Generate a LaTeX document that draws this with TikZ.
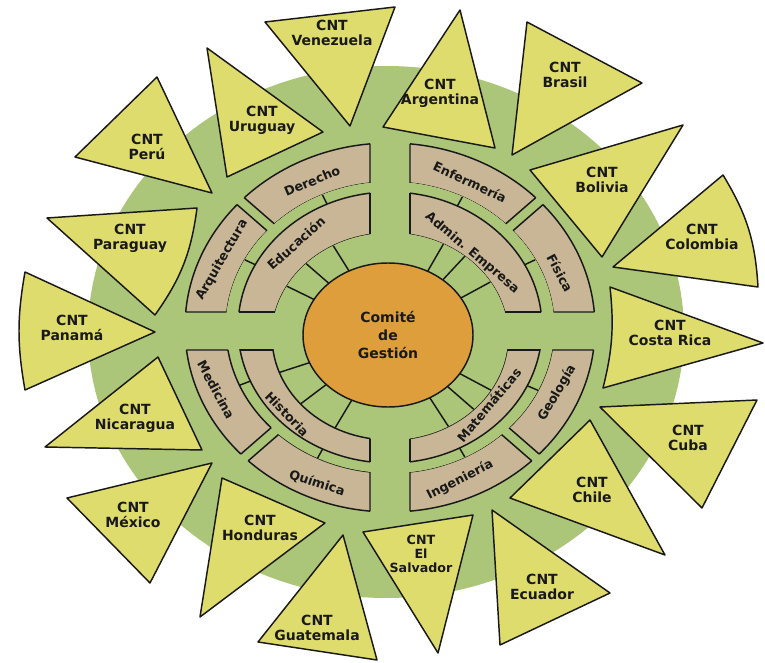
\documentclass[tikz,border=0pt]{standalone}
\usepackage{fontspec}
\setmainfont{DejaVu Sans}
\usetikzlibrary{shapes.geometric}
\definecolor{diskgreen}{RGB}{171,197,121}
\definecolor{bandtan}{RGB}{200,182,150}
\definecolor{triyellow}{RGB}{223,220,110}
\definecolor{hubor}{RGB}{222,158,60}
\definecolor{ink}{RGB}{25,25,25}
\tikzset{
  cnttri/.style={fill=triyellow, draw=ink, line width=1.1pt, line join=round},
  cntlabel/.style={font=\fontsize{10.5}{11.3}\selectfont\bfseries, align=center, text=ink, inner sep=0pt},
  bandlabel/.style={font=\fontsize{9.5}{10}\selectfont\bfseries, text=ink, inner sep=0pt},
  outline/.style={draw=ink, line width=1.1pt},
  link/.style={draw=ink, line width=1.1pt},
}
% #1 cy outer ellipse, #2 #3 radii; #4 cy inner ellipse, #5 #6 radii; #7 polygon
\newcommand\bandpiece[7]{%
  \begin{scope}
    \clip (0,#1) ellipse[x radius=#2, y radius=#3];
    \filldraw[fill=bandtan, outline, line join=miter] #7 -- cycle;
    \fill[diskgreen] (0,#4) ellipse[x radius=#5, y radius=#6];
  \end{scope}
  \begin{scope}
    \clip #7 -- cycle;
    \draw[outline] (0,#1) ellipse[x radius=#2, y radius=#3] (0,#4) ellipse[x radius=#5, y radius=#6];
  \end{scope}}
\begin{document}
\begin{tikzpicture}[x=0.75pt, y=0.75pt]
\fill[white] (0,0) rectangle (765,-663);
\useasboundingbox (0,0) rectangle (765,-663);
% green disk
\fill[diskgreen] (386,-332) ellipse[x radius=298, y radius=266];
% bands
\begin{scope}[shift={(390,-331)}]
  % outer band
  \bandpiece{3.5}{205}{184.5}{3.5}{164}{145.5}{(20,24) -- (300,267.4) -- (300,400) -- (20,400)}
  \bandpiece{3.5}{205}{184.5}{3.5}{164}{145.5}{(29.5,19) -- (300,19) -- (300,254.2)}
  \bandpiece{3.5}{205}{184.5}{3.5}{164}{145.5}{(-20,24) -- (-300,267.4) -- (-300,400) -- (-20,400)}
  \bandpiece{3.5}{205}{184.5}{3.5}{164}{145.5}{(-29.5,19) -- (-300,19) -- (-300,254.2)}
  \bandpiece{3.5}{205}{184.5}{3.5}{164}{145.5}{(20,-24) -- (300,-267.4) -- (300,-400) -- (20,-400)}
  \bandpiece{3.5}{205}{184.5}{3.5}{164}{145.5}{(29.5,-19) -- (300,-19) -- (300,-254.2)}
  \bandpiece{3.5}{205}{184.5}{3.5}{164}{145.5}{(-20,-24) -- (-300,-267.4) -- (-300,-400) -- (-20,-400)}
  \bandpiece{3.5}{205}{184.5}{3.5}{164}{145.5}{(-29.5,-19) -- (-300,-19) -- (-300,-254.2)}
  % inner band
  \bandpiece{3.5}{152}{135.5}{-5.5}{118}{103.5}{(20,19) -- (300,19) -- (300,300) -- (20,300)}
  \bandpiece{3.5}{152}{135.5}{-5.5}{118}{103.5}{(-20,19) -- (-300,19) -- (-300,300) -- (-20,300)}
  \bandpiece{3.5}{152}{135.5}{-5.5}{118}{103.5}{(20,-19) -- (300,-19) -- (300,-300) -- (20,-300)}
  \bandpiece{3.5}{152}{135.5}{-5.5}{118}{103.5}{(-20,-19) -- (-300,-19) -- (-300,-300) -- (-20,-300)}
  % stubs between the two bands
  \foreach \a in {117,155,61,25,201,241,337,300}
    \draw[link, shift={(0,3.5)}] (\a:{152/sqrt((cos(\a))^2+(152/135.5*sin(\a))^2)}) -- (\a:{164/sqrt((cos(\a))^2+(164/145.5*sin(\a))^2)});
  % spokes from the hub
  \foreach \a in {122,139,154,60,47,28.5,198,217,239,332,319,303}
    \draw[link, shift={(0,-5.5)}] (\a:50) -- (\a:{118/sqrt((cos(\a))^2+(118/103.5*sin(\a))^2)});
\end{scope}
% hub
\node[ellipse, draw=ink, line width=1.1pt, fill=hubor, minimum width=127.5pt, minimum height=108pt, inner sep=0pt,
      font=\fontsize{10.5}{13.5}\selectfont\bfseries, align=center, text=ink] (hub) at (388,-335) {Comité\\de\\Gestión};
% band labels
\node[bandlabel, rotate=23]  (derecho) at (312,-181) {Derecho};
\node[bandlabel, rotate=42]  (educacion) at (296,-243) {Educación};
\node[bandlabel, rotate=60]  (arquitectura) at (222,-260) {Arquitectura};
\node[bandlabel, rotate=-25] (enfermeria) at (470,-182) {Enfermería};
\node[bandlabel, rotate=-40] (admin) at (472,-253) {Admin. Empresa};
\node[bandlabel, rotate=-62] (fisica) at (560,-273) {Física};
\node[bandlabel, rotate=-62] (medicina) at (216,-390) {Medicina};
\node[bandlabel, rotate=-46] (historia) at (287,-414) {Historia};
\node[bandlabel, rotate=-18] (quimica) at (317,-483) {Química};
\node[bandlabel, rotate=50]  (matematicas) at (489,-405) {Matemáticas};
\node[bandlabel, rotate=60]  (geologia) at (557,-393) {Geología};
\node[bandlabel, rotate=27]  (ingenieria) at (460,-480) {Ingeniería};
% triangles
\filldraw[cnttri] (265,-22) -- (395,-7) -- (350,-126) -- cycle;
\filldraw[cnttri] (460,-10) -- (383,-127) -- (495,-148) -- cycle;
\filldraw[cnttri] (527,-22) -- (642,-83) -- (512,-155) -- cycle;
\filldraw[cnttri] (683,-125) -- (530,-170) -- (602,-257) -- cycle;
\filldraw[cnttri] (613,-267) -- (723,-175) to[bend left=14] (758,-287) -- cycle;
\filldraw[cnttri] (763,-343) -- (603,-388) to[bend right=10] (610,-287) -- cycle;
\filldraw[cnttri] (600,-407) -- (757,-400) -- (702,-508) -- cycle;
\filldraw[cnttri] (590,-420) -- (510,-498) -- (665,-555) -- cycle;
\filldraw[cnttri] (492,-510) -- (610,-593) -- (500,-645) -- cycle;
\filldraw[cnttri] (363,-532) -- (473,-515) -- (438,-653) -- cycle;
\filldraw[cnttri] (343,-535) -- (258,-642) -- (377,-660) -- cycle;
\filldraw[cnttri] (222,-478) -- (325,-523) -- (200,-617) -- cycle;
\filldraw[cnttri] (67,-498) -- (212,-463) -- (150,-583) -- cycle;
\filldraw[cnttri] (158,-357) -- (45,-447) -- (202,-450) -- cycle;
\filldraw[cnttri] (155,-332) -- (25,-390) to[bend left=10] (25,-272) -- cycle;
\filldraw[cnttri] (47,-218) -- (197,-208) to[bend left=14] (155,-315) -- cycle;
\filldraw[cnttri] (157,-77) -- (75,-157) -- (212,-193) -- cycle;
\filldraw[cnttri] (207,-48) -- (323,-132) -- (227,-177) -- cycle;
% country labels
\node[cntlabel] (venezuela) at (332,-33) {CNT\\Venezuela};
\node[cntlabel] (argentina) at (440,-93) {CNT\\Argentina};
\node[cntlabel] (brasil) at (565,-75) {CNT\\Brasil};
\node[cntlabel] (bolivia) at (602,-180) {CNT\\Bolivia};
\node[cntlabel] (colombia) at (702,-237) {CNT\\Colombia};
\node[cntlabel] (costarica) at (670,-333) {CNT\\Costa Rica};
\node[cntlabel] (cuba) at (688,-438) {CNT\\Cuba};
\node[cntlabel] (chile) at (592,-490) {CNT\\Chile};
\node[cntlabel] (ecuador) at (542,-587) {CNT\\Ecuador};
\node[cntlabel, font=\fontsize{9.5}{10.5}\selectfont\bfseries] (elsalvador) at (421,-554) {CNT\\El\\Salvador};
\node[cntlabel] (guatemala) at (317,-628) {CNT\\Guatemala};
\node[cntlabel] (honduras) at (260,-528) {CNT\\Honduras};
\node[cntlabel] (mexico) at (133,-515) {CNT\\México};
\node[cntlabel] (nicaragua) at (135,-418) {CNT\\Nicaragua};
\node[cntlabel] (panama) at (72,-328) {CNT\\Panamá};
\node[cntlabel] (paraguay) at (130,-238) {CNT\\Paraguay};
\node[cntlabel] (peru) at (147,-147) {CNT\\Perú};
\node[cntlabel] (uruguay) at (262,-120) {CNT\\Uruguay};
\end{tikzpicture}
\end{document}
